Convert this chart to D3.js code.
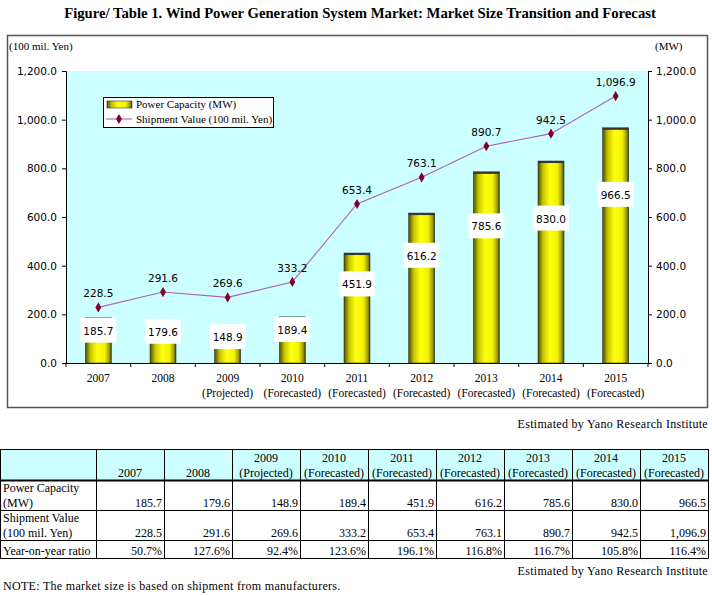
<!DOCTYPE html>
<html><head><meta charset="utf-8">
<script src="https://cdn.jsdelivr.net/npm/d3@7"></script>
<style>body{margin:0;background:#fff}svg{display:block}</style>
</head><body>
<svg id="c" width="712" height="595"></svg>
<script>
const years = ["2007","2008","2009","2010","2011","2012","2013","2014","2015"];
const yearNotes = ["","","(Projected)","(Forecasted)","(Forecasted)","(Forecasted)","(Forecasted)","(Forecasted)","(Forecasted)"];
const powerCapacity = [185.7,179.6,148.9,189.4,451.9,616.2,785.6,830.0,966.5];
const shipmentValue = [228.5,291.6,269.6,333.2,653.4,763.1,890.7,942.5,1096.9];
const yoyRatio = ["50.7%","127.6%","92.4%","123.6%","196.1%","116.8%","116.7%","105.8%","116.4%"];
const axisTicks = [0,200,400,600,800,1000,1200];

const svg = d3.select("#c");
const serif = "'Liberation Serif','Times New Roman',serif";
const sans = "'DejaVu Sans',Tahoma,sans-serif";
const fmt = d3.format(",.1f");

// title
svg.append("text").attr("x",360).attr("y",18).attr("text-anchor","middle")
  .attr("font-family",serif).attr("font-weight","bold").attr("font-size",14.7)
  .text("Figure/ Table 1. Wind Power Generation System Market: Market Size Transition and Forecast");

// frame
svg.append("rect").attr("x",7.5).attr("y",35.5).attr("width",700).attr("height",372)
  .attr("fill","none").attr("stroke","#555").attr("stroke-width",1.5);

const L=66, R=648, T=71, B=363;
const x = d3.scaleBand().domain(years).range([L,R]);
const y = d3.scaleLinear().domain([0,1200]).range([B,T]);

// gradient
const defs = svg.append("defs");
const g = defs.append("linearGradient").attr("id","bar").attr("x1","0").attr("x2","1").attr("y1","0").attr("y2","0");
g.append("stop").attr("offset","0").attr("stop-color","#4d4d00");
g.append("stop").attr("offset","0.2").attr("stop-color","#c8c800");
g.append("stop").attr("offset","0.45").attr("stop-color","#ffff10");
g.append("stop").attr("offset","0.75").attr("stop-color","#f2f200");
g.append("stop").attr("offset","0.92").attr("stop-color","#9a9a00");
g.append("stop").attr("offset","1").attr("stop-color","#3a3a00");

// plot bg
svg.append("rect").attr("x",L).attr("y",T).attr("width",R-L).attr("height",B-T).attr("fill","#ccffff");

// unit labels
svg.append("text").attr("x",9).attr("y",50).attr("font-family",serif).attr("font-size",11).text("(100 mil. Yen)");
svg.append("text").attr("x",655).attr("y",50).attr("font-family",serif).attr("font-size",11).text("(MW)");

// axes
const la = svg.append("g").attr("transform",`translate(${L},0)`)
  .call(d3.axisLeft(y).tickValues(axisTicks).tickFormat(fmt).tickSize(4).tickPadding(6));
const ra = svg.append("g").attr("transform",`translate(${R},0)`)
  .call(d3.axisRight(y).tickValues(axisTicks).tickFormat(fmt).tickSize(4).tickPadding(5));
[la,ra].forEach(a=>{
  a.select(".domain").attr("stroke","#000");
  a.selectAll(".tick line").attr("stroke","#000");
  a.selectAll("text").attr("font-family",sans).attr("font-size",10.5).attr("fill","#000");
});
ra.selectAll(".tick text").attr("x",8);
la.selectAll(".tick text").attr("x",-9);

// bottom axis line with ticks at boundaries
svg.append("line").attr("x1",L).attr("x2",R).attr("y1",B+0.5).attr("y2",B+0.5).attr("stroke","#000");
const bounds = years.map(d=>x(d)).concat([R]);
svg.selectAll(".bt").data(bounds).enter().append("line")
  .attr("x1",d=>d).attr("x2",d=>d).attr("y1",B).attr("y2",B+4).attr("stroke","#000");

// bars
const bw = 26;
const bars = svg.append("g");
bars.selectAll("rect").data(powerCapacity).enter().append("rect")
  .attr("x",(d,i)=>x(years[i])+x.bandwidth()/2-bw/2).attr("width",bw)
  .attr("y",d=>y(d)).attr("height",d=>B-y(d))
  .attr("fill","url(#bar)").attr("stroke","#333").attr("stroke-width",0.6);
bars.selectAll("line").data(powerCapacity).enter().append("line")
  .attr("x1",(d,i)=>x(years[i])+x.bandwidth()/2-bw/2).attr("x2",(d,i)=>x(years[i])+x.bandwidth()/2+bw/2)
  .attr("y1",d=>y(d)+1).attr("y2",d=>y(d)+1).attr("stroke","#333").attr("stroke-width",2);

// bar labels
const bl = svg.append("g");
powerCapacity.forEach((d,i)=>{
  const cx = x(years[i])+x.bandwidth()/2;
  const cy = y(d*0.715);
  bl.append("rect").attr("x",cx-18).attr("y",cy-13).attr("width",36).attr("height",25).attr("fill","#fff");
  bl.append("text").attr("x",cx).attr("y",cy+4).attr("text-anchor","middle")
    .attr("font-family",sans).attr("font-size",10.5).text(fmt(d));
});

// line
const line = d3.line().x((d,i)=>x(years[i])+x.bandwidth()/2).y(d=>y(d));
svg.append("path").datum(shipmentValue).attr("d",line).attr("fill","none")
  .attr("stroke","#b060c0").attr("stroke-width",1.1);
const sym = d3.symbol().type(d3.symbolDiamond).size(30);
svg.selectAll(".mk").data(shipmentValue).enter().append("path")
  .attr("transform",(d,i)=>`translate(${x(years[i])+x.bandwidth()/2},${y(d)})`)
  .attr("d",sym).attr("fill","#80002a");
svg.selectAll(".sl").data(shipmentValue).enter().append("text")
  .attr("x",(d,i)=>x(years[i])+x.bandwidth()/2).attr("y",d=>y(d)-10)
  .attr("text-anchor","middle").attr("font-family",sans).attr("font-size",10.5).text(d=>fmt(d));

// category labels
years.forEach((yr,i)=>{
  const cx = x(yr)+x.bandwidth()/2;
  svg.append("text").attr("x",cx).attr("y",382).attr("text-anchor","middle")
    .attr("font-family",serif).attr("font-size",11.5).text(yr);
  if(yearNotes[i]) svg.append("text").attr("x",cx).attr("y",397).attr("text-anchor","middle")
    .attr("font-family",serif).attr("font-size",11.5).text(yearNotes[i]);
});

// legend
const lg = svg.append("g");
lg.append("rect").attr("x",103.5).attr("y",97.5).attr("width",170).attr("height",30).attr("fill","#fff").attr("stroke","#000");
lg.append("rect").attr("x",107).attr("y",101).attr("width",25).attr("height",7).attr("fill","url(#bar)").attr("stroke","#333").attr("stroke-width",0.6);
lg.append("text").attr("x",136).attr("y",108).attr("font-family",serif).attr("font-size",11).text("Power Capacity (MW)");
lg.append("line").attr("x1",106).attr("x2",132).attr("y1",119).attr("y2",119).attr("stroke","#b060c0").attr("stroke-width",1.1);
lg.append("path").attr("transform","translate(119,119)").attr("d",sym).attr("fill","#80002a");
lg.append("text").attr("x",136).attr("y",123).attr("font-family",serif).attr("font-size",11).text("Shipment Value (100 mil. Yen)");

// estimated notes
svg.append("text").attr("x",708).attr("y",428).attr("text-anchor","end").attr("font-family",serif).attr("font-size",12).attr("letter-spacing",0.3).text("Estimated by Yano Research Institute");

// table
const tT=449, rowB=[480,510,540,558];
const colX=[0,96].concat(years.map((d,i)=>96+68*(i+1)));
const tb = svg.append("g").attr("font-family",serif).attr("font-size",12);
tb.append("rect").attr("x",0).attr("y",tT).attr("width",708).attr("height",rowB[0]-tT).attr("fill","#ccffff");
[tT].concat(rowB).forEach((yy,i)=>{
  tb.append("line").attr("x1",0).attr("x2",708).attr("y1",yy+0.5).attr("y2",yy+0.5)
    .attr("stroke","#000").attr("stroke-width",i===1?2.2:1);
});
colX.forEach(xx=>{
  tb.append("line").attr("x1",xx+0.5).attr("x2",xx+0.5).attr("y1",tT).attr("y2",rowB[3]+0.5).attr("stroke","#000");
});
years.forEach((yr,i)=>{
  const cx=(colX[i+1]+colX[i+2])/2;
  if(yearNotes[i]){
    tb.append("text").attr("x",cx).attr("y",462).attr("text-anchor","middle").text(yr);
    tb.append("text").attr("x",cx).attr("y",477).attr("text-anchor","middle").text(yearNotes[i]);
  } else {
    tb.append("text").attr("x",cx).attr("y",477).attr("text-anchor","middle").text(yr);
  }
  const rx=colX[i+2]-2;
  tb.append("text").attr("x",rx).attr("y",507).attr("text-anchor","end").text(fmt(powerCapacity[i]));
  tb.append("text").attr("x",rx).attr("y",537).attr("text-anchor","end").text(fmt(shipmentValue[i]));
  tb.append("text").attr("x",rx).attr("y",555).attr("text-anchor","end").text(yoyRatio[i]);
});
tb.append("text").attr("x",3).attr("y",492).text("Power Capacity");
tb.append("text").attr("x",3).attr("y",507).text("(MW)");
tb.append("text").attr("x",3).attr("y",522).text("Shipment Value");
tb.append("text").attr("x",3).attr("y",537).text("(100 mil. Yen)");
tb.append("text").attr("x",3).attr("y",555).text("Year-on-year ratio");

svg.append("text").attr("x",708).attr("y",575).attr("text-anchor","end").attr("font-family",serif).attr("font-size",12).attr("letter-spacing",0.3).text("Estimated by Yano Research Institute");
svg.append("text").attr("x",3).attr("y",590).attr("font-family",serif).attr("font-size",12).attr("letter-spacing",0.3).text("NOTE: The market size is based on shipment from manufacturers.");
</script>
</body></html>
